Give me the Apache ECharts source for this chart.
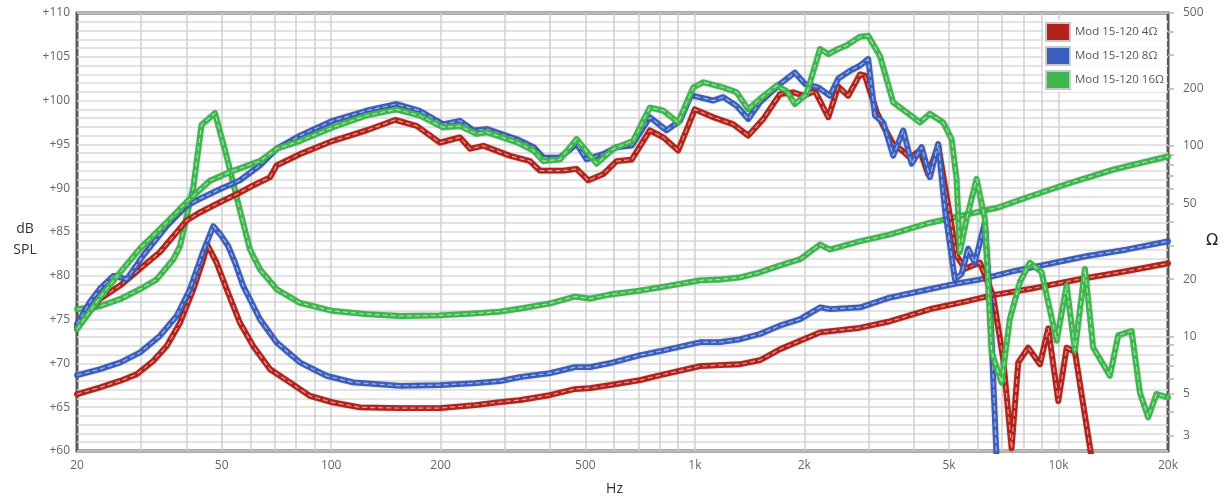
<!DOCTYPE html>
<html><head><meta charset="utf-8">
<script src="https://cdn.jsdelivr.net/npm/echarts@6/dist/echarts.min.js"></script>
<style>html,body{margin:0;padding:0;background:#fff}#c{width:1227px;height:501px}</style>
</head><body><div id="c"></div>
<script>
const seriesNames = ['Mod 15-120 4Ω', 'Mod 15-120 8Ω', 'Mod 15-120 16Ω'];
const freqTickValues = [30,40,50,60,70,80,90,100,200,300,400,500,600,700,800,900,1000,2000,3000,4000,5000,6000,7000,8000,9000,10000];
const freqLabelValues = [20,50,100,200,500,1000,2000,5000,10000,20000];
const ohmLabelValues = [3,5,10,20,50,100,200,500];
const ohmTickValues = [3,4,5,6,7,8,9,10,20,30,40,50,60,70,80,90,100,200,300,400,500];
const axisTitles = { spl: 'dB\nSPL', ohm: 'Ω', freq: 'Hz' };

// SPL (dB) vs frequency (Hz)
const spl4 = [[20,74.1],[23.1,77.35],[26.3,78.9],[29.8,80.8],[33.8,82.7],[40,86.3],[43.6,87.25],[49.5,88.4],[56.1,89.5],[60.9,90.3],[67.9,91.25],[70.8,92.6],[82.1,93.9],[101,95.4],[125,96.6],[150,97.8],[172,97.1],[199,95.2],[226,95.8],[241,94.5],[262,94.85],[310,93.7],[352,93.1],[375,92.0],[435,92.0],[473,92.2],[509,90.9],[560,91.6],[610,93.1],[670,93.25],[752,96.6],[819,95.8],[900,94.3],[1000,99.0],[1124,98.1],[1275,97.3],[1402,96.0],[1542,97.9],[1714,100.75],[1864,100.95],[1986,100.55],[2139,101.1],[2328,98.1],[2479,101.6],[2640,100.55],[2845,103.0],[2936,102.85],[3161,98.7],[3297,97.1],[3511,95.05],[3665,94.5],[3904,93.5],[4158,94.3],[4382,91.6],[4669,94.85],[5027,86.9],[5244,82.3],[5527,80.8],[6078,81.5],[6612,77.7],[7044,70.5],[7429,60.3],[7747,70.1],[8253,71.8],[8891,69.9],[9371,74.0],[9984,65.7],[10527,71.8],[11094,71.3],[12300,59.5]];
const spl8 = [[20,74.5],[21.7,77.0],[23.1,78.5],[25.2,80.0],[26.3,79.8],[27.4,79.6],[30.4,82.3],[35.3,85.7],[40,88.0],[43.6,88.8],[49.5,89.9],[56.1,90.9],[63.7,92.6],[70.8,94.5],[82.1,96.0],[101,97.7],[125,98.85],[151,99.6],[175,98.85],[203,97.3],[226,97.7],[246,96.6],[268,96.75],[324,95.6],[360,94.7],[383,93.5],[426,93.5],[473,95.05],[504,93.3],[560,93.9],[610,94.7],[670,94.85],[752,98.1],[836,96.6],[910,97.7],[970,100.4],[990,100.55],[1124,100.0],[1197,100.4],[1303,99.4],[1402,97.9],[1510,99.8],[1714,101.9],[1884,103.2],[2007,101.9],[2185,101.5],[2353,100.55],[2479,102.5],[2669,103.4],[2845,104.0],[2997,104.75],[3127,98.3],[3297,97.5],[3511,93.7],[3742,96.6],[3946,92.8],[4203,94.7],[4429,91.25],[4669,95.05],[4870,87.6],[5188,79.6],[5412,80.2],[5644,83.1],[5888,81.5],[6273,86.1],[6474,77.35],[6750,59.5]];
const spl16 = [[20,73.9],[23.1,77.5],[26.3,80.4],[29.8,83.1],[35.3,86.1],[40,88.4],[46.4,90.85],[53.8,92.0],[63.7,93.1],[70.8,94.5],[82.1,95.4],[101,96.95],[125,98.3],[151,99.0],[175,98.3],[203,96.95],[226,97.1],[251,96.2],[268,96.4],[324,95.25],[360,94.3],[383,93.1],[426,93.3],[473,95.6],[537,92.8],[597,94.5],[677,95.4],[752,99.2],[819,98.85],[900,97.5],[990,101.5],[1055,102.1],[1197,101.5],[1303,100.95],[1402,99.0],[1510,100.2],[1678,101.7],[1788,101.1],[1884,99.6],[2029,100.75],[2209,105.9],[2328,105.3],[2479,105.9],[2615,106.3],[2845,107.3],[2997,107.4],[3229,105.1],[3511,99.8],[3986,98.1],[4158,97.5],[4429,98.5],[4819,97.5],[5081,95.6],[5244,91.05],[5354,82.7],[5587,86.5],[5952,91.05],[6273,86.5],[6545,71.3],[6973,67.8],[7350,75.1],[7831,79.3],[8343,81.5],[8986,80.4],[9883,72.6],[10527,78.9],[11094,71.45],[11820,80.8],[12456,71.8],[13845,68.6],[14594,73.2],[15883,73.7],[16737,66.7],[17640,63.85],[18600,66.5],[20000,66.1]];

// Impedance (ohm) vs frequency (Hz)
const imp4 = [[20,4.97],[23.1,5.39],[26.3,5.84],[29.2,6.33],[32.4,7.43],[35.3,8.91],[38.4,11.8],[41.8,17.7],[44.5,25.4],[45.6,30.4],[48.4,24.4],[51.6,17.7],[56.1,11.8],[61,8.91],[67.9,6.72],[77,5.73],[87.4,4.87],[101,4.5],[120,4.24],[155,4.2],[199,4.2],[249,4.36],[291,4.52],[330,4.63],[400,4.92],[468,5.29],[515,5.35],[584,5.55],[706,5.89],[802,6.25],[1033,6.98],[1172,7.06],[1330,7.14],[1510,7.5],[1714,8.56],[2209,10.5],[2845,11.1],[3439,12.0],[4429,13.9],[5587,15.3],[6612,16.5],[8520,17.9],[11450,20.0],[15390,22.0],[20000,24.2]];
const imp8 = [[20,6.25],[23.1,6.72],[26.3,7.29],[29.8,8.23],[33.8,10.05],[37.6,12.8],[40.9,17.7],[44.5,28],[47.4,37.9],[49.6,34.3],[52.1,29.8],[54.4,24.4],[57.3,18.4],[63.7,12.3],[70.8,9.28],[82.1,7.29],[97.2,6.2],[115,5.73],[155,5.5],[199,5.55],[249,5.68],[291,5.82],[330,6.11],[400,6.41],[468,6.89],[515,6.89],[584,7.23],[706,7.96],[802,8.36],[1033,9.32],[1172,9.32],[1330,9.66],[1510,10.3],[1714,11.4],[1945,12.3],[2209,14.2],[2353,13.9],[2845,14.2],[3439,16.0],[4429,17.7],[5133,18.8],[6078,19.9],[7508,22.0],[9275,23.9],[11950,26.4],[15390,28.6],[20000,31.6]];
const imp16 = [[20,13.9],[23.1,14.4],[26.3,15.7],[29.8,17.7],[33.1,19.9],[36.8,25.4],[38.4,29.8],[41.8,61.4],[44,129],[47.9,149],[51.6,88],[56.1,46],[59.8,28.6],[63.7,22.5],[70.8,17.7],[82.1,15.0],[101,13.6],[125,13.1],[155,12.8],[199,12.9],[249,13.2],[291,13.5],[330,14.0],[400,14.9],[468,16.2],[515,15.8],[584,16.6],[706,17.4],[802,18.1],[1033,19.7],[1172,19.9],[1330,20.4],[1510,21.7],[1714,23.6],[1945,25.4],[2209,30.4],[2353,28.6],[2845,31.6],[3439,34.3],[4429,39.5],[5587,43.7],[6759,47.3],[8343,54.4],[10750,64.0],[14140,75.2],[20000,88.2]];

const colors = ['#b3221b', '#3a5ebd', '#3db64d'];
const LOG = Math.log10;
const fmtHz = v => v >= 1000 ? (v / 1000) + 'k' : String(v);

function curve(name, data, color, yIdx) {
  return [
    { name: name, type: 'line', xAxisIndex: 0, yAxisIndex: yIdx, data: data,
      showSymbol: false, symbol: 'none', clip: true, silent: true,
      lineStyle: { width: 5.8, color: color, shadowBlur: 2, shadowColor: 'rgba(0,0,0,0.25)', join: 'round', cap: 'round' },
      itemStyle: { color: color }, emphasis: { disabled: true } },
    { name: name + ' hl', type: 'line', xAxisIndex: 0, yAxisIndex: yIdx, data: data,
      showSymbol: false, symbol: 'none', clip: true, silent: true,
      lineStyle: { width: 1.2, color: 'rgba(255,255,255,0.55)', type: [5, 3] },
      emphasis: { disabled: true } }
  ];
}

const impData = [imp4, imp8, imp16];
const splData = [spl4, spl8, spl16];
let series = [];
for (let i = 0; i < 3; i++) series = series.concat(curve(seriesNames[i], impData[i], colors[i], 1));
for (let i = 0; i < 3; i++) series = series.concat(curve(seriesNames[i], splData[i], colors[i], 0));

const chart = echarts.init(document.getElementById('c'), null, { renderer: 'canvas' });
chart.setOption({
  animation: false,
  backgroundColor: '#fff',
  textStyle: { fontFamily: 'Open Sans' },
  grid: { left: 77, right: 59, top: 13, bottom: 49, show: true, borderColor: '#595959', borderWidth: 3, backgroundColor: '#fff' },
  legend: {
    data: seriesNames, orient: 'vertical', left: 1043, top: 20, icon: 'rect',
    itemWidth: 24, itemHeight: 18, itemGap: 4, padding: [2, 3, 2, 2],
    backgroundColor: 'rgba(255,255,255,0.85)',
    itemStyle: { borderColor: '#c8c8c8', borderWidth: 2 },
    textStyle: { color: '#555', fontSize: 11.5, fontFamily: 'Open Sans' }
  },
  graphic: [
    { type: 'text', x: 25, y: 240, silent: true,
      style: { text: axisTitles.spl, align: 'center', verticalAlign: 'middle', textAlign: 'center', textVerticalAlign: 'middle',
               fontSize: 14, fontFamily: 'Open Sans', fill: '#333', lineHeight: 21 } },
    { type: 'text', x: 1212, y: 241, silent: true,
      style: { text: axisTitles.ohm, align: 'center', verticalAlign: 'middle', textAlign: 'center', textVerticalAlign: 'middle',
               fontSize: 16, fontFamily: 'DejaVu Sans', fill: '#222' } }
  ],
  xAxis: [
    { type: 'log', logBase: 10, min: 20, max: 20000, show: false },
    { type: 'value', min: LOG(20), max: LOG(20000), position: 'bottom',
      axisLine: { show: false },
      axisTick: { show: false, customValues: freqTickValues.map(LOG) },
      splitLine: { show: true, lineStyle: { color: '#d0d0d0', width: 1.5 } },
      axisLabel: { customValues: freqLabelValues.map(LOG), formatter: v => fmtHz(Math.round(Math.pow(10, v))), color: '#666', fontSize: 12, margin: 9 },
      name: axisTitles.freq, nameLocation: 'middle', nameGap: 31,
      nameTextStyle: { color: '#333', fontSize: 14, padding: [0, 16, 0, 0] } }
  ],
  yAxis: [
    { type: 'value', min: 60, max: 110, interval: 5, position: 'left',
      axisLine: { show: false }, axisTick: { show: false },
      axisLabel: { formatter: '+{value}', color: '#666', fontSize: 12, margin: 7 },
      splitLine: { lineStyle: { color: '#dadada', width: 1.5 } },
      minorTick: { show: false, splitNumber: 5 },
      minorSplitLine: { show: true, lineStyle: { color: '#dadada', width: 1.5 } } },
    { type: 'log', logBase: 10, min: 2.5, max: 500, show: false },
    { type: 'value', min: LOG(2.5), max: LOG(500), position: 'right',
      axisLine: { show: false },
      axisTick: { show: true, customValues: ohmTickValues.map(LOG), length: 6, lineStyle: { color: '#b5b5b5', width: 1.5 } },
      splitLine: { show: false },
      axisLabel: { customValues: ohmLabelValues.map(LOG), formatter: v => String(Math.round(Math.pow(10, v))), color: '#666', fontSize: 12, margin: 15 } }
  ],
  series: series
});
</script>
</body></html>
